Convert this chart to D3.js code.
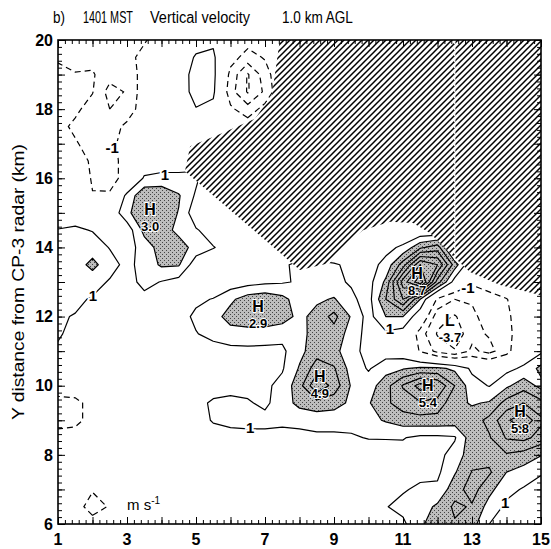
<!DOCTYPE html>
<html>
<head>
<meta charset="utf-8">
<script src="https://cdn.jsdelivr.net/npm/d3@7"></script>
<style>
  body { margin: 0; background: #fff; }
  text { font-family: "Liberation Sans", Arial, sans-serif; }
</style>
</head>
<body>
<svg id="chart" width="551" height="549"></svg>
<script>
// grid of the analysis (km), west->east and north->south
const gridX = [1,1.5,2,2.5,3,3.5,4,4.5,5,5.5,6,6.5,7,7.5,8,8.5,9,9.5,10,10.5,11,11.5,12,12.5,13,13.5,14,14.5,15];
const gridY = [20,19.5,19,18.5,18,17.5,17,16.5,16,15.5,15,14.5,14,13.5,13,12.5,12,11.5,11,10.5,10,9.5,9,8.5,8,7.5,7,6.5,6];

// vertical velocity (m/s), one row per gridY value
const w = [
  [-1.3,-1.2,-1.2,-1.3,-1.2,-1.1,-0.5,0.2,0.6,0.8,0.2,-0.6,-0.3,0,0,0,0,0,0,0,0,0,0,0,0,0,0,0,0],
  [-1.1,-1.3,-1.3,-1.5,-1.3,-0.7,-0.2,0.4,1.1,1.2,-0.6,-1.4,-0.9,0,0,0,0,0,0,0,0,0,0,0,0,0,0,0,0],
  [-0.8,-0.95,-0.9,-1.6,-1.6,-0.6,-0.1,0.3,1.5,1.3,-1.3,-3.1,-1.5,0,0,0,0,0,0,0,0,0,0,0,0,0,0,0,0],
  [-0.6,-0.7,-0.95,-2.4,-1.9,-0.4,0,0.4,1.4,1.2,-1.6,-3.1,-1.8,0,0,0,0,0,0,0,0,0,0,0,0,0,0,0,0],
  [-0.5,-0.8,-1.4,-2.0,-1.5,-0.5,0,0.3,0.95,0.7,-0.8,-1.6,-0.6,0,0,0,0,0,0,0,0,0,0,0,0,0,0,0,0],
  [-0.7,-1.2,-1.5,-1.4,-0.8,-0.3,0,0.2,0.4,0.3,-0.2,-0.4,0,0,0,0,0,0,0,0,0,0,0,0,0,0,0,0,0],
  [-0.6,-0.9,-1.4,-1.2,-0.7,-0.2,0.1,0.3,0.4,0,0,0,0,0,0,0,0,0,0,0,0,0,0,0,0,0,0,0,0],
  [-0.5,-0.7,-1.1,-1.4,-0.6,0.2,0.6,0.7,0.7,0,0,0,0,0,0,0,0,0,0,0,0,0,0,0,0,0,0,0,0],
  [-0.4,-0.6,-1.05,-1.3,-0.7,1.15,1.2,1.15,1.2,0,0,0,0,0,0,0,0,0,0,0,0,0,0,0,0,0,0,0,0],
  [-0.2,-0.6,-0.98,-0.9,1.3,2.8,2.9,2.1,0.85,0.3,0,0,0,0,0,0,0,0,0,0,0,0,0,0,0,0,0,0,0],
  [0.3,0.5,0.4,0.2,1.7,3.0,2.6,1.95,0.3,0.1,0,0,0,0,0,0,0,0,0,0,0,0,0,0,0,0,0,0,0],
  [1.05,1.15,0.95,0.3,0.4,2.3,2.5,1.7,1.1,0.5,0.2,0,0,0,0,0,0,0,0,0,0,0,0,0,0,0,0,0,0],
  [1.2,1.4,1.5,0.95,0.5,1.5,2.4,2.5,1.6,1.05,0.6,0.3,0.2,0,0,0,0,0.3,0.4,0.7,1.2,2.8,3.5,0,0,0,0,0,0],
  [1.2,1.5,2.3,1.4,0.7,1.4,2.15,2.1,0.4,0.2,0.3,0.5,0.7,0.8,1.3,1.3,1.1,0.8,0.6,1.3,3.5,7.0,6.0,2.5,0,0,0,0,0],
  [1.1,1.3,1.4,0.9,0.6,1.3,0.95,0.6,0.3,0.2,0.4,0.6,0.8,0.9,1.1,1.3,1.2,0.9,0.6,2.2,6.5,8.7,3.5,0.5,-0.8,-0.6,0,0,0],
  [1.2,1.2,0.9,0.5,0.4,0.7,0.4,0.3,0.8,1.05,1.8,2.5,2.7,2.3,1.5,1.8,2.1,1.2,0.6,3.0,5.0,2.0,-1.2,-2.0,-1.9,-1.3,-1.05,-0.3,0],
  [1.1,0.95,0.6,0.4,0.3,0.3,0.3,0.6,1.2,1.6,2.4,2.8,2.9,2.5,1.7,2.4,3.3,1.9,0.6,2.0,2.0,0.2,-2.6,-3.1,-2.2,-1.6,-1.2,-0.4,-0.1],
  [1.15,0.6,0.4,0.3,0.3,0.3,0.3,0.5,0.95,1.3,1.6,1.5,1.4,1.3,1.6,2.5,2.6,1.6,0.6,0.8,0.5,-1.5,-3.1,-3.7,-2.3,-1.9,-1.3,-0.4,-0.1],
  [0.8,0.5,0.3,0.3,0.3,0.3,0.3,0.3,0.5,0.6,0.7,0.8,0.8,0.8,1.7,2.6,2.3,1.4,0.6,0.5,0.3,-1.1,-2.3,-2.9,-1.8,-2.3,-1.4,0.2,0.8],
  [0.5,0.4,0.3,0.3,0.3,0.3,0.3,0.3,0.3,0.4,0.5,0.6,0.7,0.9,2.1,3.5,3.1,1.6,0.9,1.6,1.9,2.2,2.2,1.8,0.8,0.4,0.7,1.2,2.3],
  [-0.2,-0.3,0.3,0.3,0.3,0.3,0.3,0.3,0.3,0.4,0.6,0.7,0.8,1.3,2.6,4.9,3.6,1.9,1.5,2.6,4.1,5.4,4.9,3.0,1.4,0.95,1.8,2.6,1.7],
  [-1.5,-1.3,-0.6,0.1,0.3,0.3,0.3,0.3,0.6,1.2,1.3,1.1,0.8,1.5,2.3,2.6,2.4,1.8,1.9,2.8,3.5,3.9,3.6,2.3,1.9,2.1,3.4,4.0,3.3],
  [-1.4,-1.3,-0.6,0,0.3,0.3,0.3,0.3,0.5,1.1,1.3,1.4,1.3,1.2,1.3,1.4,1.4,1.3,1.7,2.1,2.5,2.6,2.6,2.5,2.5,3.3,4.8,5.8,4.2],
  [-0.6,-0.5,-0.2,0.1,0.3,0.3,0.3,0.3,0.3,0.5,0.6,0.6,0.7,0.7,0.7,0.8,0.8,0.9,1.05,1.05,1.05,0.8,0.8,0.9,2.6,2.9,4.1,4.3,3.6],
  [-0.2,-0.1,0,0.2,0.3,0.3,0.3,0.3,0.3,0.3,0.3,0.3,0.3,0.3,0.3,0.3,0.3,0.4,0.5,0.6,0.7,0.6,0.7,1.4,2.6,2.6,2.9,2.6,2.05],
  [0.1,0,0,0.2,0.3,0.3,0.3,0.3,0.3,0.3,0.3,0.3,0.3,0.3,0.3,0.3,0.3,0.3,0.4,0.5,0.6,0.7,0.8,1.9,3.05,3.15,2.0,1.6,1.1],
  [0.2,-0.2,-0.9,-0.2,0.2,0.3,0.3,0.3,0.3,0.3,0.3,0.3,0.3,0.3,0.3,0.3,0.3,0.3,0.4,0.6,0.9,1.2,1.2,2.6,3.4,2.3,1.3,0.9,0.6],
  [0.3,-0.5,-1.5,-0.9,0.2,0.3,0.3,0.3,0.3,0.3,0.3,0.3,0.3,0.3,0.3,0.3,0.3,0.3,0.4,0.95,1.3,1.5,2.2,3.2,2.9,1.6,0.8,0.5,0.4],
  [0.3,0.2,-0.5,-0.3,0.2,0.3,0.3,0.3,0.3,0.3,0.3,0.3,0.3,0.3,0.3,0.3,0.3,0.3,0.4,0.6,0.8,1.8,2.6,2.9,2.4,1.0,0.5,0.4,0.4]
];

// contour levels (zero line omitted), shading from 2 m/s up
const posLevels = [1, 2, 3, 4, 5, 6, 7, 8];
const negLevels = [-1, -2, -3];
const shadeFrom = 2;

// region without data (hatched), km
const noDataX = [7.43, 15, 15, 13.81, 12.94, 12.51, 12.07, 11.78, 11.29, 10.62, 9.84, 9.38, 8.88, 8.01, 4.68, 4.83, 5.7, 6.71, 7.2];
const noDataY = [20, 20, 12.62, 12.91, 13.29, 13.69, 14.13, 14.42, 14.71, 14.74, 14.5, 14.13, 13.55, 13.35, 16.2, 16.93, 17.28, 17.72, 18.41];
// scan seam through the hatching (km)
const seamX = 12.5;
const seamTop = 20, seamBottom = 13.6;

// highs and lows
const extKind = ["H", "H", "H", "L", "H", "H", "H"];
const extValue = ["3.0", "2.9", "8.7", "-3.7", "4.9", "5.4", "5.8"];
const extX = [3.67, 6.8, 11.41, 12.36, 8.59, 11.72, 14.39];
const extY = [14.82, 12.02, 12.97, 11.61, 9.99, 9.73, 8.98];

// labels sitting on contour lines
const lineLabelText = ["1", "-1", "1", "1", "-1", "1", "1"];
const lineLabelX = [4.1, 2.57, 2.01, 10.62, 12.88, 6.57, 13.96];
const lineLabelY = [16.1, 16.87, 12.6, 11.64, 12.83, 8.78, 6.61];

const xTicks = [1, 3, 5, 7, 9, 11, 13, 15];
const yTicks = [6, 8, 10, 12, 14, 16, 18, 20];

const svg = d3.select("#chart");
const x = d3.scaleLinear().domain([1, 15]).range([58, 541]);
const y = d3.scaleLinear().domain([6, 20]).range([524, 40]);

const nx = gridX.length, ny = gridY.length;
const stepX = gridX[1] - gridX[0], stepY = gridY[1] - gridY[0];
const values = w.flat();

// d3.contours puts sample i at i + 0.5
const toScreen = d3.geoTransform({
  point: function (gx, gy) {
    this.stream.point(x(gridX[0] + (gx - 0.5) * stepX), y(gridY[0] + (gy - 0.5) * stepY));
  }
});
const path = d3.geoPath(toScreen);
const contours = d3.contours().size([nx, ny]);

// defs
const defs = svg.append("defs");
defs.append("clipPath").attr("id", "plot-clip")
  .append("rect").attr("x", 58).attr("y", 40).attr("width", 483).attr("height", 484);

const stipple = defs.append("pattern").attr("id", "stipple")
  .attr("patternUnits", "userSpaceOnUse").attr("width", 4).attr("height", 4);
stipple.append("rect").attr("width", 4).attr("height", 4).attr("fill", "#bdbdbd");
stipple.append("rect").attr("x", 0).attr("y", 0).attr("width", 1).attr("height", 1).attr("fill", "#444");
stipple.append("rect").attr("x", 2).attr("y", 2).attr("width", 1).attr("height", 1).attr("fill", "#444");

const hatch = defs.append("pattern").attr("id", "hatch")
  .attr("patternUnits", "userSpaceOnUse").attr("width", 6).attr("height", 6);
hatch.append("path").attr("d", "M0,6 L6,0 M-1,1 L1,-1 M5,7 L7,5")
  .attr("stroke", "#000").attr("stroke-width", 1.5);

const plot = svg.append("g").attr("clip-path", "url(#plot-clip)");

plot.append("rect").attr("x", 58).attr("y", 40).attr("width", 483).attr("height", 484).attr("fill", "#fff");

// shading
plot.append("path")
  .attr("d", path(contours.contour(values, shadeFrom)))
  .attr("fill", "url(#stipple)");

// contour lines
posLevels.forEach(function (lv) {
  plot.append("path")
    .attr("d", path(contours.contour(values, lv)))
    .attr("fill", "none").attr("stroke", "#000").attr("stroke-width", 1.2)
    .attr("stroke-linejoin", "round");
});
negLevels.forEach(function (lv) {
  plot.append("path")
    .attr("d", path(contours.contour(values, lv)))
    .attr("fill", "none").attr("stroke", "#000").attr("stroke-width", 1.2)
    .attr("stroke-dasharray", "6,4");
});

// no-data region
const noData = noDataX.map(function (d, i) { return [d, noDataY[i]]; });
const edge = d3.line().x(function (d) { return x(d[0]); }).y(function (d) { return y(d[1]); }).curve(d3.curveLinearClosed);
plot.append("path").attr("d", edge(noData)).attr("fill", "#fff");
plot.append("path").attr("d", edge(noData)).attr("fill", "url(#hatch)");
plot.append("line")
  .attr("x1", x(seamX)).attr("x2", x(seamX)).attr("y1", y(seamTop)).attr("y2", y(seamBottom))
  .attr("stroke", "#fff").attr("stroke-width", 1.3).attr("stroke-dasharray", "4,2");

// H / L labels
extKind.forEach(function (k, i) {
  const g = plot.append("g").attr("transform", "translate(" + x(extX[i]) + "," + y(extY[i]) + ")");
  g.append("text").attr("y", -4).attr("text-anchor", "middle")
    .attr("font-size", 16).attr("font-weight", "bold")
    .attr("stroke", "#fff").attr("stroke-width", 2).attr("paint-order", "stroke")
    .text(k);
  g.append("text").attr("y", 12).attr("text-anchor", "middle")
    .attr("font-size", 13).attr("font-weight", "bold")
    .attr("stroke", "#fff").attr("stroke-width", 2).attr("paint-order", "stroke")
    .text(extValue[i]);
});

// labels on lines
lineLabelText.forEach(function (t, i) {
  plot.append("text")
    .attr("x", x(lineLabelX[i])).attr("y", y(lineLabelY[i])).attr("dy", "0.35em")
    .attr("text-anchor", "middle").attr("font-size", 15).attr("font-weight", "bold")
    .attr("stroke", "#fff").attr("stroke-width", 4).attr("paint-order", "stroke")
    .text(t);
});

// units
const unit = plot.append("text").attr("x", x(3.0)).attr("y", y(6.4)).attr("font-size", 15);
unit.append("tspan").text("m s");
unit.append("tspan").attr("font-size", 10).attr("dy", -6).text("-1");

// ticks (inward, all four sides)
const minor = d3.range(0, 71).map(function (i) { return 1 + i * 0.2; });
const minorY = d3.range(0, 71).map(function (i) { return 6 + i * 0.2; });
const majorX = d3.range(1, 16);
const majorY = d3.range(6, 21);
function ticks(axis, tr, vals, size) {
  svg.append("g").attr("transform", tr)
    .call(axis.tickValues(vals).tickSize(size).tickSizeOuter(0).tickFormat(""))
    .call(function (g) { g.select(".domain").remove(); g.selectAll("line").attr("stroke-width", 1); });
}
ticks(d3.axisBottom(x), "translate(0,524)", minor, -4);
ticks(d3.axisTop(x), "translate(0,40)", minor, -4);
ticks(d3.axisLeft(y), "translate(58,0)", minorY, -4);
ticks(d3.axisRight(y), "translate(541,0)", minorY, -4);
ticks(d3.axisBottom(x), "translate(0,524)", majorX, -7);
ticks(d3.axisTop(x), "translate(0,40)", majorX, -7);
ticks(d3.axisLeft(y), "translate(58,0)", majorY, -7);
ticks(d3.axisRight(y), "translate(541,0)", majorY, -7);

svg.append("rect").attr("x", 58).attr("y", 40).attr("width", 483).attr("height", 484)
  .attr("fill", "none").attr("stroke", "#000").attr("stroke-width", 1.6);

// tick labels
svg.selectAll(".xl").data(xTicks).enter().append("text")
  .attr("x", function (d) { return x(d); }).attr("y", 545)
  .attr("text-anchor", "middle").attr("font-size", 16).attr("font-weight", "bold")
  .text(function (d) { return d; });
svg.selectAll(".yl").data(yTicks).enter().append("text")
  .attr("x", 53).attr("y", function (d) { return y(d); }).attr("dy", "0.36em")
  .attr("text-anchor", "end").attr("font-size", 16).attr("font-weight", "bold")
  .text(function (d) { return d; });

// axis title and heading
svg.append("text").attr("transform", "translate(24,282) rotate(-90)")
  .attr("text-anchor", "middle").attr("font-size", 17)
  .attr("textLength", 276).attr("lengthAdjust", "spacingAndGlyphs")
  .text("Y distance from CP-3 radar (km)");

// heading words squeezed horizontally to the widths in the figure
function heading(x0, len, t) {
  const el = svg.append("text").attr("font-size", 16).text(t);
  const natural = el.node().getComputedTextLength();
  el.attr("transform", "translate(" + x0 + ",23) scale(" + (len / natural) + ",1)");
}
heading(53, 12, "b)");
heading(83, 50, "1401 MST");
heading(150, 100, "Vertical velocity");
heading(282, 71, "1.0 km AGL");
</script>
</body>
</html>
